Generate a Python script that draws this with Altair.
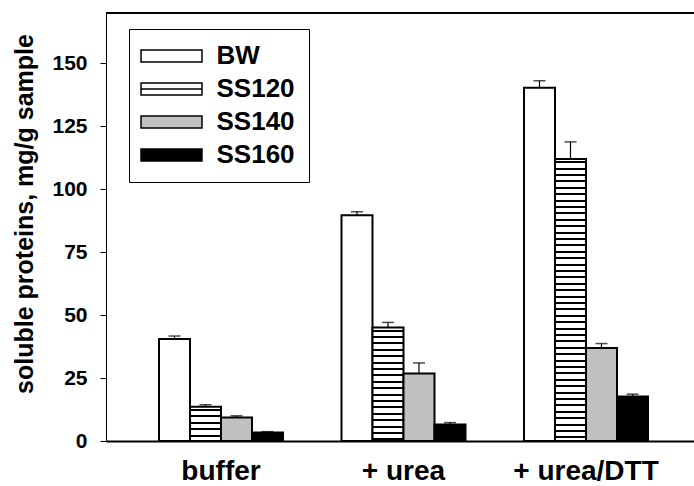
import altair as alt
import pandas as pd

groups = ["buffer", "+ urea", "+ urea/DTT"]
series = ["BW", "SS120", "SS140", "SS160"]
bw = [40.5, 89.7, 140.3]
ss120 = [13.6, 45.1, 112.0]
ss140 = [9.3, 26.8, 36.9]
ss160 = [3.4, 6.6, 17.7]
bw_err = [1.2, 1.4, 2.8]
ss120_err = [0.8, 2.0, 6.8]
ss140_err = [0.7, 4.2, 1.8]
ss160_err = [0.3, 0.7, 0.9]

vals = {"BW": bw, "SS120": ss120, "SS140": ss140, "SS160": ss160}
errs = {"BW": bw_err, "SS120": ss120_err, "SS140": ss140_err, "SS160": ss160_err}
rows = []
for s in series:
    for i, g in enumerate(groups):
        rows.append({"group": g, "series": s, "value": vals[s][i],
                     "hi": vals[s][i] + errs[s][i]})
df = pd.DataFrame(rows)

FONT = "Liberation Sans"
YMAX = 170
H = 428
W = 588
TOP = 13
PX = H / YMAX


def stripe_gradient(value, pitch=6.4, line=2.0):
    h = value * PX
    stops = [{"offset": 0, "color": "white"}]
    k = 0
    while True:
        s = k * pitch + (pitch - line) / 2
        e = s + line
        if s >= h:
            break
        e = min(e, h)
        stops += [{"offset": s / h, "color": "white"},
                  {"offset": s / h, "color": "black"},
                  {"offset": e / h, "color": "black"},
                  {"offset": e / h, "color": "white"}]
        k += 1
    stops.append({"offset": 1, "color": "white"})
    return {"gradient": "linear", "x1": 0, "y1": 0, "x2": 0, "y2": 1,
            "stops": stops}


conds = []
for i, g in enumerate(groups):
    conds.append({"test": f"datum.group === '{g}' && datum.series === 'SS120'",
                  "value": stripe_gradient(ss120[i])})
conds.append({"test": "datum.series === 'SS140'", "value": "#c0c0c0"})
conds.append({"test": "datum.series === 'SS160'", "value": "black"})

x_enc = alt.X("group:N", sort=groups,
              scale=alt.Scale(range=[0, 595], paddingInner=0.3205,
                              paddingOuter=0.2904),
              axis=alt.Axis(title=None, ticks=False, labelAngle=0,
                            labelFontSize=28, labelFont=FONT,
                            labelFontWeight="bold", labelColor="black",
                            labelPadding=16, domainColor="black",
                            domainWidth=2))
xo_enc = alt.XOffset("series:N", sort=series,
                     scale=alt.Scale(paddingInner=0, paddingOuter=0))
y_scale = alt.Scale(domain=[0, YMAX], nice=False)
y_enc = alt.Y("value:Q", scale=y_scale,
              axis=alt.Axis(title="soluble proteins, mg/g sample",
                            values=[0, 25, 50, 75, 100, 125, 150],
                            grid=False, tickSize=6, tickColor="black",
                            tickWidth=1, domainColor="black", domainWidth=1,
                            labelFontSize=21, labelFont=FONT,
                            labelFontWeight="bold", labelColor="black",
                            labelPadding=13, titleFontSize=25,
                            titleFont=FONT, titleFontWeight="bold",
                            titleColor="black", titleX=-82, titleY=200.5,
                            titleBaseline="middle"))

# top frame line of the plot area
frame = alt.Chart(df).mark_rule(color="black", strokeWidth=1).encode(
    x=alt.value(0), x2=alt.value(W), y=alt.value(0))

bars = alt.Chart(df).mark_bar(stroke="black", strokeWidth=2).encode(
    x=x_enc, xOffset=xo_enc, y=y_enc,
    fill=alt.FillValue("white", condition=conds),
)

err = alt.Chart(df).mark_rule(color="black", strokeWidth=1.2).encode(
    x=x_enc, xOffset=xo_enc, y=alt.Y("value:Q", scale=y_scale), y2="hi:Q")
cap = alt.Chart(df).mark_tick(color="black", thickness=1.5, size=12,
                              orient="horizontal").encode(
    x=x_enc, xOffset=xo_enc, y=alt.Y("hi:Q", scale=y_scale))

rect_path = "M-5.08,-1H5.08V1H-5.08Z"
rect_line_path = "M-5.08,-1H5.08V1H-5.08Z M-5.08,0H5.08"
legend = alt.Legend(title=None, orient="none", legendX=23, legendY=16,
                    padding=14, strokeColor="black", fillColor="white",
                    symbolSize=144, symbolStrokeColor="black",
                    symbolStrokeWidth=1.5, symbolOffset=15.5,
                    labelFontSize=26, labelFont=FONT,
                    labelFontWeight="bold", labelColor="black",
                    rowPadding=7, labelOffset=32)
leg = alt.Chart(df).transform_filter("datum.value < 0").mark_point(
    filled=True, opacity=1, strokeWidth=1.5).encode(
    fill=alt.Fill("series:N", scale=alt.Scale(domain=series,
                  range=["white", "white", "#c0c0c0", "black"]),
                  legend=legend),
    stroke=alt.Stroke("series:N", scale=alt.Scale(domain=series,
                      range=["black", "black", "black", "black"]),
                      legend=legend),
    shape=alt.Shape("series:N", scale=alt.Scale(domain=series,
                    range=[rect_path, rect_line_path, rect_path, rect_path]),
                    legend=legend),
)

chart = alt.layer(frame, bars, err, cap, leg).properties(
    width=W, height=H,
    autosize=alt.AutoSizeParams(type="none"),
    padding={"left": 106, "top": TOP, "right": 0, "bottom": 486 - TOP - H},
).configure_view(stroke=None).configure(background="white")

chart.save("out.html", embed_options={"renderer": "svg", "actions": False})
